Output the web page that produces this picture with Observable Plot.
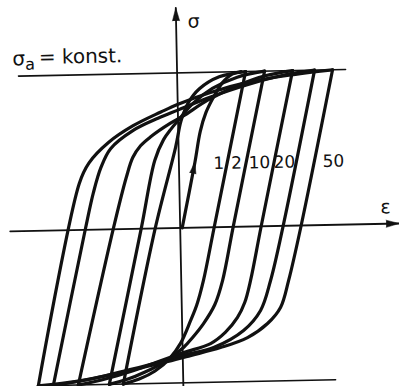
<!DOCTYPE html>
<html>
<head>
<meta charset="utf-8">
<script src="https://cdn.jsdelivr.net/npm/d3@7"></script>
<script src="https://cdn.jsdelivr.net/npm/@observablehq/plot@0.6"></script>
<style>
  html, body { margin: 0; padding: 0; background: #fff; }
  #chart svg { display: block; transform: rotate(-1.15deg); }
</style>
</head>
<body>
<div id="chart"></div>
<script>
// Cyclic softening under a constant stress amplitude (σa = konst.):
// hysteresis loops for cycles N = 1, 2, 10, 20, 50.
// Strain ε in arbitrary units, stress σ normalised by σa.

const cycles = ["1", "2", "10", "20", "50"];

// first loading from the origin (with arrow)
const firstLoading = [[0.02, 0], [0.16, 0.42], [0.22, 0.62], [0.28, 0.74], [0.36, 0.84], [0.45, 0.93], [0.55, 0.985], [0.64, 1]];

// loading branches (σ = -σa → +σa), one per cycle
const loadN1  = [[-0.60, -1], [-0.25, 0], [-0.03, 0.52], [0.03, 0.69], [0.10, 0.80], [0.22, 0.895], [0.42, 0.97], [0.685, 1]];
const loadN2  = [[-0.74, -1], [-0.39, 0], [-0.24, 0.44], [-0.15, 0.57], [-0.07, 0.64], [0.01, 0.70], [0.15, 0.80], [0.35, 0.895], [0.60, 0.965], [0.875, 1]];
const loadN10 = [[-1.05, -1], [-0.67, 0], [-0.53, 0.33], [-0.46, 0.46], [-0.38, 0.535], [-0.28, 0.59], [-0.08, 0.675], [0.05, 0.72], [0.30, 0.82], [0.60, 0.91], [0.88, 0.97], [1.155, 1]];
const loadN20 = [[-1.30, -1], [-0.95, 0], [-0.86, 0.24], [-0.78, 0.40], [-0.68, 0.52], [-0.45, 0.635], [-0.20, 0.71], [0.0, 0.76], [0.33, 0.84], [0.70, 0.915], [1.05, 0.97], [1.375, 1]];
const loadN50 = [[-1.45, -1], [-1.00, 0.30], [-0.90, 0.43], [-0.70, 0.56], [-0.45, 0.665], [-0.17, 0.75], [0.01, 0.80], [0.33, 0.87], [0.70, 0.93], [1.10, 0.97], [1.555, 1]];

// unloading branches (σ = +σa → -σa), one per cycle
const unloadN1  = [[0.685, 1], [0.34, 0], [0.222, -0.342], [0.15, -0.50], [0.085, -0.60], [-0.02, -0.745], [-0.13, -0.84], [-0.28, -0.92], [-0.44, -0.97], [-0.60, -1]];
const unloadN2  = [[0.875, 1], [0.53, 0], [0.413, -0.345], [0.33, -0.50], [0.214, -0.62], [0.10, -0.71], [0.009, -0.772], [-0.18, -0.86], [-0.38, -0.925], [-0.56, -0.97], [-0.74, -1]];
const unloadN10 = [[1.155, 1], [0.81, 0], [0.693, -0.348], [0.63, -0.49], [0.555, -0.585], [0.43, -0.68], [0.281, -0.75], [0.008, -0.805], [-0.25, -0.86], [-0.50, -0.915], [-0.78, -0.965], [-1.05, -1]];
const unloadN20 = [[1.375, 1], [1.03, 0], [0.893, -0.351], [0.787, -0.543], [0.613, -0.670], [0.31, -0.776], [0.02, -0.82], [-0.25, -0.865], [-0.55, -0.91], [-0.90, -0.96], [-1.30, -1]];
const unloadN50 = [[1.555, 1], [1.21, 0], [1.073, -0.354], [0.987, -0.526], [0.854, -0.628], [0.651, -0.716], [0.379, -0.777], [0.077, -0.825], [-0.15, -0.86], [-0.40, -0.895], [-0.70, -0.935], [-1.05, -0.975], [-1.45, -1]];

// cycle labels: strain position of each label, at a common stress level
const cycleLabelStrain = [0.40, 0.576, 0.806, 1.056, 1.546];
const cycleLabelStress = 0.41;

// stress amplitude limits ±σa and coordinate axes
const upperLimit = [-1.586, 1.685];
const lowerLimit = [-1.458, 1.523];
const strainAxis = [-1.70, 2.19];
const stressAxis = [-1.06, 1.42];

// texts
const constantLabel = "σa = konst.";
const constantLabelAt = [-1.644, 1.069];
const stressLabel = "σ";
const stressLabelAt = [0.115, 1.29];
const strainLabel = "ε";
const strainLabelAt = [2.006, 0.067];

// ---------------------------------------------------------------
const xDomain = [-1.79, 2.20];
const yDomain = [-1.0258, 1.4645];
const W = 399, H = 386;
const ink = "#111";

const toRows = (pts, branch) => pts.map(([e, s]) => ({e, s, branch}));

const loadings = [loadN1, loadN2, loadN10, loadN20, loadN50];
const unloadings = [unloadN1, unloadN2, unloadN10, unloadN20, unloadN50];
const loopRows = [
  ...toRows(firstLoading, "first"),
  ...loadings.flatMap((p, i) => toRows(p, "load " + cycles[i])),
  ...unloadings.flatMap((p, i) => toRows(p, "unload " + cycles[i]))
];

const limitRows = [
  ...toRows(upperLimit.map(e => [e, 1]), "upper"),
  ...toRows(lowerLimit.map(e => [e, -1]), "lower")
];
const axisRows = [
  ...toRows(strainAxis.map(e => [e, 0]), "ε"),
  ...toRows(stressAxis.map(s => [0, s]), "σ")
];

// arrowheads: axis tips and the direction of the first loading
const pxPerE = W / (xDomain[1] - xDomain[0]);
const pxPerS = H / (yDomain[1] - yDomain[0]);
const heading = (a, b) => Math.atan2((b[0] - a[0]) * pxPerE, (b[1] - a[1]) * pxPerS) * 180 / Math.PI;
const axisHeads = [
  {e: 0, s: stressAxis[1], angle: 0},
  {e: strainAxis[1], s: 0, angle: 90}
];
const loadingHead = [
  {e: firstLoading[1][0], s: firstLoading[1][1], angle: heading(firstLoading[0], firstLoading[1])}
];

const cycleLabelRows = cycles.map((t, i) => ({t, e: cycleLabelStrain[i], s: cycleLabelStress}));
const textRows = [
  {t: constantLabel, e: constantLabelAt[0], s: constantLabelAt[1], size: 20},
  {t: stressLabel, e: stressLabelAt[0], s: stressLabelAt[1], size: 19},
  {t: strainLabel, e: strainLabelAt[0], s: strainLabelAt[1], size: 19}
];

const plot = Plot.plot({
  width: W,
  height: H,
  margin: 0,
  axis: null,
  x: {domain: xDomain},
  y: {domain: yDomain},
  style: {background: "#fff", fontFamily: "DejaVu Sans, sans-serif", color: ink, overflow: "visible"},
  marks: [
    Plot.line(limitRows, {x: "e", y: "s", z: "branch", stroke: ink, strokeWidth: 1.6}),
    Plot.line(axisRows, {x: "e", y: "s", z: "branch", stroke: ink, strokeWidth: 1.8}),
    Plot.line(loopRows, {x: "e", y: "s", z: "branch", curve: "catmull-rom", stroke: ink, strokeWidth: 3.2, strokeLinejoin: "round", strokeLinecap: "round"}),
    Plot.vector(axisHeads, {x: "e", y: "s", rotate: "angle", length: 13, r: 3.6, shape: "spike", anchor: "end", fill: ink, stroke: ink, strokeWidth: 0.5}),
    Plot.vector(loadingHead, {x: "e", y: "s", rotate: "angle", length: 11, r: 3.2, shape: "spike", anchor: "end", fill: ink, stroke: ink, strokeWidth: 0.5}),
    Plot.text(cycleLabelRows, {x: "e", y: "s", text: "t", fontSize: 17, fill: ink, textAnchor: "middle", lineAnchor: "middle"}),
    Plot.text(textRows, {x: "e", y: "s", text: "t", fontSize: "size", fill: ink, textAnchor: "start", lineAnchor: "bottom"})
  ]
});

// subscript "a" in σa
d3.select(plot).selectAll("text")
  .filter(function () { return this.textContent === constantLabel; })
  .each(function () {
    const t = d3.select(this).text(null);
    t.append("tspan").text("σ");
    t.append("tspan").attr("dy", "0.28em").attr("font-size", "0.8em").text("a");
    t.append("tspan").attr("dy", "-0.28em").attr("dx", "0.2em").text("= konst.");
  });

document.getElementById("chart").append(plot);
</script>
</body>
</html>
